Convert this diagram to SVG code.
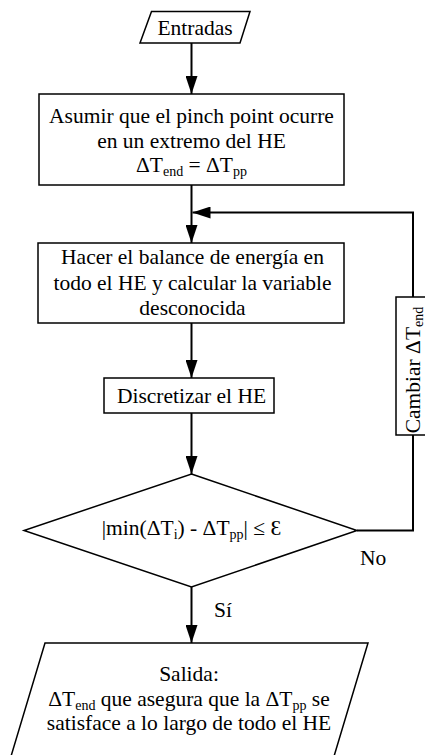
<svg xmlns="http://www.w3.org/2000/svg" width="425" height="755" viewBox="0 0 425 755" font-family="'Liberation Serif', Tinos, 'Times New Roman', serif">
<style>
.shape{fill:#fff;stroke:#000;stroke-width:1.5}
.conn{fill:none;stroke:#000;stroke-width:2}
text{font-family:'Liberation Serif', Tinos, 'Times New Roman', serif;font-size:21.5px;fill:#000}
.c{text-anchor:middle}
.sub{font-size:14px}
</style>
<defs>
<marker id="arr" markerUnits="userSpaceOnUse" markerWidth="18" markerHeight="12" refX="18" refY="6" orient="auto">
<path d="M0,0 L18,6 L0,12 z" fill="#000"/>
</marker>
</defs>
<g id="connectors">
<line class="conn" x1="191.5" y1="43" x2="191.5" y2="94" marker-end="url(#arr)"/>
<line class="conn" x1="191.5" y1="185" x2="191.5" y2="243" marker-end="url(#arr)"/>
<line class="conn" x1="191.5" y1="323" x2="191.5" y2="378" marker-end="url(#arr)"/>
<line class="conn" x1="191.5" y1="413" x2="191.5" y2="474" marker-end="url(#arr)"/>
<line class="conn" x1="191.5" y1="587" x2="191.5" y2="643" marker-end="url(#arr)"/>
<polyline class="conn" points="357,530.5 413,530.5 413,435"/>
<polyline class="conn" points="413,297 413,212.5 192.5,212.5" marker-end="url(#arr)"/>
<text x="360" y="565">No</text>
<text x="214" y="617">Sí</text>
</g>
<g id="entradas">
<polygon class="shape" points="151.5,11.5 250,11.5 240,43 140,43"/>
<text class="c" x="195" y="35">Entradas</text>
</g>
<g id="asumir">
<rect class="shape" x="39" y="94" width="305" height="91"/>
<text class="c" x="191.5" y="123">Asumir que el pinch point ocurre</text>
<text class="c" x="191.5" y="148">en un extremo del HE</text>
<text class="c" x="191.5" y="172">ΔT<tspan class="sub" dy="4">end</tspan><tspan dy="-4"> = ΔT</tspan><tspan class="sub" dy="4">pp</tspan></text>
</g>
<g id="balance">
<rect class="shape" x="38" y="243" width="306" height="80"/>
<text class="c" x="192.5" y="264">Hacer el balance de energía en</text>
<text class="c" x="192.5" y="289.5">todo el HE y calcular la variable</text>
<text class="c" x="192.5" y="314.5">desconocida</text>
</g>
<g id="discretizar">
<rect class="shape" x="104" y="378" width="170" height="35"/>
<text class="c" x="191.5" y="402.5">Discretizar el HE</text>
</g>
<g id="decision">
<polygon class="shape" points="191.5,474 357,530.5 191.5,587 24,530.5"/>
<text class="c" x="191.5" y="535">|min(ΔT<tspan class="sub" dy="4">i</tspan><tspan dy="-4">) - ΔT</tspan><tspan class="sub" dy="4">pp</tspan><tspan dy="-4">| ≤ Ɛ</tspan></text>
</g>
<g id="cambiar">
<rect class="shape" x="396" y="297" width="34" height="138"/>
<text transform="translate(420,370) rotate(-90)" class="c">Cambiar  ΔT<tspan class="sub" dy="2.5">end</tspan></text>
</g>
<g id="salida">
<polygon class="shape" points="45,643 368,643 326.6,781 3.6,781"/>
<text class="c" x="189" y="681">Salida:</text>
<text class="c" x="189" y="705.5">ΔT<tspan class="sub" dy="4">end</tspan><tspan dy="-4"> que asegura que la ΔT</tspan><tspan class="sub" dy="4">pp</tspan><tspan dy="-4"> se</tspan></text>
<text class="c" x="189" y="730">satisface a lo largo de todo el HE</text>
</g>
</svg>
